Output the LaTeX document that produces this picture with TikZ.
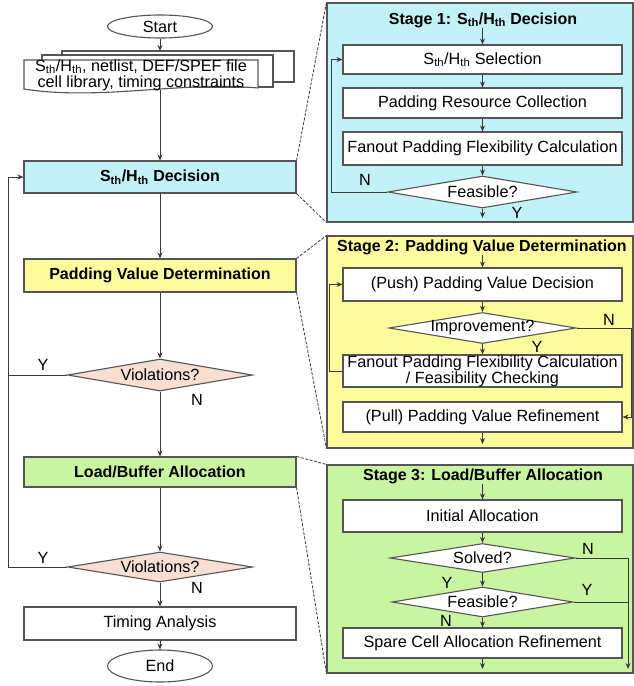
\documentclass[tikz,border=0pt]{standalone}
\usepackage{fontspec}
\setmainfont{Liberation Sans}
\usetikzlibrary{shapes.geometric,arrows.meta}
\definecolor{cyanfill}{HTML}{C2F1F7}
\definecolor{yellowfill}{HTML}{FCFC9E}
\definecolor{greenfill}{HTML}{C9F5A2}
\definecolor{peachfill}{HTML}{F8DFD1}
\definecolor{linec}{HTML}{3A3A3A}
\definecolor{boxc}{HTML}{555555}
\begin{document}
\begin{tikzpicture}[x=1pt,y=-1pt,
  font=\fontsize{16.2}{17}\selectfont,
  line/.style={draw=linec, line width=1pt},
  arr/.style={line, -{Stealth[length=6pt,width=5pt]}},
  box/.style={draw=boxc, line width=1.1pt, fill=white, inner sep=0pt, minimum width=#1},
  box/.default=272,
  sbox/.style={box=279},
  dia/.style={diamond, draw=boxc, line width=1.1pt, fill=white, inner sep=0pt, aspect=1},
  oval/.style={ellipse, draw=boxc, line width=1.1pt, fill=white, inner sep=0pt},
  panel/.style={draw=boxc, line width=1.1pt, inner sep=0pt, minimum width=306},
  dashline/.style={draw=linec, line width=0.8pt, dash pattern=on 3pt off 1.5pt},
  lab/.style={inner sep=0pt},
  ttl/.style={inner sep=0pt, font=\fontsize{16}{17}\selectfont\bfseries}
]
\useasboundingbox (0,0) rectangle (634,686);

% ---------- stage panels ----------
\node[panel, fill=cyanfill, minimum height=219] (p1) at (480,112.5) {};
\node[panel, fill=yellowfill, minimum height=212] (p2) at (480,342) {};
\node[panel, fill=greenfill, minimum height=208] (p3) at (480,569) {};

% ---------- left column ----------
\node[oval, minimum width=105, minimum height=23] (start) at (160,26.5) {Start};

% multi-document
\filldraw[draw=boxc, line width=1.1pt, fill=white] (62,51) rectangle (294,82);
\filldraw[draw=boxc, line width=1.1pt, fill=white] (42,55) rectangle (273,87);
\filldraw[draw=boxc, line width=1.1pt, fill=white] (24,60) -- (258,60) -- (258,88)
  .. controls (180,81) and (100,101) .. (24,89) -- cycle;
\node[lab, align=center, font=\fontsize{16.2}{16}\selectfont] (doc) at (141,75)
  {S\textsubscript{th}/H\textsubscript{th}, netlist, DEF/SPEF file\\cell library, timing constraints};
\coordinate (doctop) at (160,51);
\coordinate (docbot) at (160,90);

\node[box, fill=cyanfill, minimum height=32, font=\fontsize{16}{17}\selectfont\bfseries] (sth) at (160,177) {S\textsubscript{th}/H\textsubscript{th} Decision};
\node[box, fill=yellowfill, minimum height=33, font=\fontsize{16}{17}\selectfont\bfseries] (pad) at (160,275.5) {Padding Value Determination};
\node[dia, fill=peachfill, minimum width=185, minimum height=32, label=center:{Violations?}] (v1) at (160,375) {};
\node[box, fill=greenfill, minimum height=30, font=\fontsize{16}{17}\selectfont\bfseries] (load) at (160,472) {Load/Buffer Allocation};
\node[dia, fill=peachfill, minimum width=185, minimum height=30, label=center:{Violations?}] (v2) at (160,567) {};
\node[box, minimum height=33] (tim) at (160,623.5) {Timing Analysis};
\node[oval, minimum width=105, minimum height=32] (end) at (160,666) {End};

\draw[arr] (start) -- (doctop);
\draw[arr] (docbot) -- (sth);
\draw[arr] (sth) -- (pad);
\draw[arr] (pad) -- (v1);
\draw[arr] (v1) -- (load);
\draw[arr] (load) -- (v2);
\draw[arr] (v2) -- (tim);
\draw[arr] (tim) -- (end);
\coordinate (lx) at (8,567);
\draw[arr] (v2.west) -- (lx) |- (sth.west);
\draw[line] (v1.west) -- (v1.west -| lx);
\node[lab] (y1) at (43,365) {Y};
\node[lab] (n1) at (197,400) {N};
\node[lab] (y2) at (43,558) {Y};
\node[lab] (n2) at (197,588) {N};

% dashed zoom lines
\draw[dashline] (sth.north east) -- (p1.north west);
\draw[dashline] (sth.south east) -- (p1.south west);
\draw[dashline] (pad.north east) -- (p2.north west);
\draw[dashline] (pad.south east) -- (p2.south west);
\draw[dashline] (load.north east) -- (p3.north west);
\draw[dashline] (load.south east) -- (p3.south west);

% ---------- stage 1 ----------
\node[ttl] (t1) at (483,20) {Stage 1: S\textsubscript{th}/H\textsubscript{th} Decision};
\node[sbox, minimum height=29] (s1a) at (482.5,59.5) {S\textsubscript{th}/H\textsubscript{th} Selection};
\node[sbox, minimum height=30] (s1b) at (482.5,103) {Padding Resource Collection};
\node[sbox, minimum height=33] (s1c) at (482.5,148.5) {Fanout Padding Flexibility Calculation};
\node[dia, minimum width=189, minimum height=32, label=center:{Feasible?}] (s1d) at (482.5,192) {};
\coordinate (s1out) at (482.5,218);
\draw[arr] (s1a.north |- t1.south) -- (s1a);
\draw[arr] (s1a) -- (s1b);
\draw[arr] (s1b) -- (s1c);
\draw[arr] (s1c) -- (s1d);
\draw[arr] (s1d) -- (s1out);
\draw[arr] (s1d.west) -| ([xshift=-11pt]s1a.west) -- (s1a.west);
\node[lab] (n11) at (365,180) {N};
\node[lab] (y11) at (517,213) {Y};

% ---------- stage 2 ----------
\node[ttl] (t2) at (482,247) {Stage 2: Padding Value Determination};
\node[sbox, minimum height=33] (s2a) at (482.5,284.5) {(Push) Padding Value Decision};
\node[dia, minimum width=187, minimum height=31, label=center:{Improvement?}] (s2b) at (482.5,328) {};
\node[sbox, minimum height=32, align=center, font=\fontsize{16.2}{16}\selectfont] (s2c) at (482.5,371) {Fanout Padding Flexibility Calculation\\/ Feasibility Checking};
\node[sbox, minimum height=30] (s2d) at (482.5,417) {(Pull) Padding Value Refinement};
\coordinate (s2out) at (482.5,444);
\draw[arr] (s2a.north |- t2.south) -- (s2a);
\draw[arr] (s2a) -- (s2b);
\draw[arr] (s2b) -- (s2c);
\draw[arr] (s2d) -- (s2out);
\draw[arr] (s2c.west) -| ([xshift=-13pt]s2a.west) -- (s2a.west);
\draw[arr] (s2b.east) -| ([xshift=8.5pt]s2d.east) -- (s2d.east);
\node[lab] (y21) at (537,347) {Y};
\node[lab] (n21) at (609,320) {N};

% ---------- stage 3 ----------
\node[ttl] (t3) at (483,476) {Stage 3: Load/Buffer Allocation};
\node[sbox, minimum height=32] (s3a) at (482.5,516) {Initial Allocation};
\node[dia, minimum width=185, minimum height=29, label=center:{Solved?}] (s3b) at (482.5,558) {};
\node[dia, minimum width=181, minimum height=30, label=center:{Feasible?}] (s3c) at (482.5,602) {};
\node[sbox, minimum height=30] (s3d) at (482.5,643) {Spare Cell Allocation Refinement};
\coordinate (s3out) at (482.5,669);
\coordinate (e3) at (628,669);
\draw[arr] (s3a.north |- t3.south) -- (s3a);
\draw[arr] (s3a) -- (s3b);
\draw[arr] (s3b) -- (s3c);
\draw[arr] (s3c) -- (s3d);
\draw[arr] (s3d) -- (s3out);
\draw[arr] (s3b.east) -| (e3);
\draw[line] (s3c.east) -- (s3c.east -| e3);
\node[lab] (n31) at (588,549) {N};
\node[lab] (y31) at (447,583) {Y};
\node[lab] (y32) at (587,590) {Y};
\node[lab] (n32) at (446,621) {N};
\end{tikzpicture}
\end{document}
